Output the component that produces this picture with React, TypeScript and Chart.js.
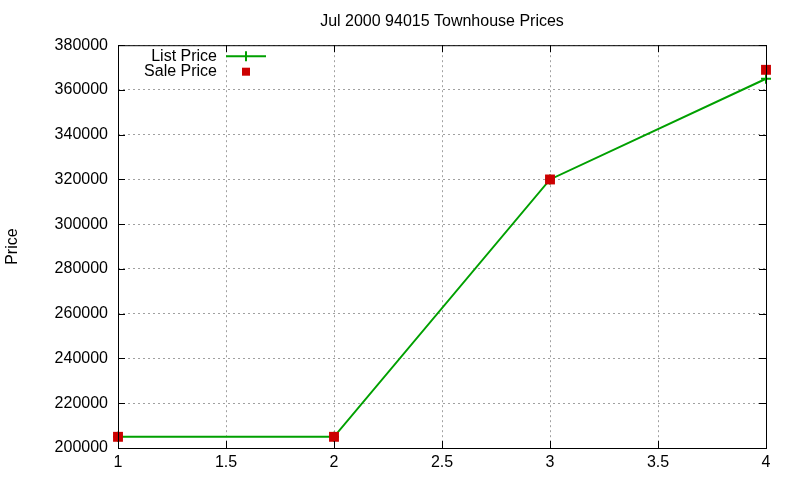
import { useEffect, useRef } from "react"
import { Chart, registerables } from "chart.js"

Chart.register(...registerables)

const listX = [1, 2, 3, 4]
const listPrice = [205000, 205000, 320000, 365000]
const saleX = [1, 2, 3, 4]
const salePrice = [205000, 205000, 320000, 369000]

const FONT = "'Liberation Sans', Arial, sans-serif"
const GREEN = "#00a000"
const RED = "#cc0000"

// gnuplot-like frame: full box, inward ticks and an inside legend
const framePlugin = {
  id: "frame",
  afterLayout(chart: any) {
    // center the title over the plot area, not the whole canvas
    const tb = chart.titleBlock
    if (tb) {
      tb.left = chart.chartArea.left
      tb.right = chart.chartArea.right
    }
  },
  afterDraw(chart: any) {
    const { ctx, chartArea: a, scales } = chart
    ctx.save()
    ctx.strokeStyle = "#000"
    ctx.lineWidth = 1
    ctx.strokeRect(a.left + 0.5, a.top + 0.5, a.right - a.left, a.bottom - a.top)
    ctx.beginPath()
    scales.x.ticks.forEach((t: any) => {
      const px = Math.round(scales.x.getPixelForValue(t.value)) + 0.5
      ctx.moveTo(px, a.bottom)
      ctx.lineTo(px, a.bottom - 7)
      ctx.moveTo(px, a.top)
      ctx.lineTo(px, a.top + 7)
    })
    scales.y.ticks.forEach((t: any) => {
      const py = Math.round(scales.y.getPixelForValue(t.value)) + 0.5
      ctx.moveTo(a.left, py)
      ctx.lineTo(a.left + 7, py)
      ctx.moveTo(a.right, py)
      ctx.lineTo(a.right - 7, py)
    })
    ctx.stroke()

    // legend
    ctx.font = `16px ${FONT}`
    ctx.fillStyle = "#000"
    ctx.textAlign = "right"
    ctx.textBaseline = "middle"
    const ds = chart.data.datasets
    const textX = a.left + 99
    const sx = a.left + 128
    ds.forEach((d: any, i: number) => {
      const y = a.top + 11 + i * 15.5
      ctx.fillText(d.label, textX, y)
      if (d.showLine !== false) {
        ctx.strokeStyle = d.borderColor
        ctx.lineWidth = 2
        ctx.beginPath()
        ctx.moveTo(textX + 9, y)
        ctx.lineTo(textX + 49, y)
        ctx.moveTo(sx, y - 5)
        ctx.lineTo(sx, y + 5)
        ctx.stroke()
      } else {
        ctx.fillStyle = d.pointBackgroundColor
        ctx.fillRect(sx - 4, y - 4, 8, 8)
        ctx.fillStyle = "#000"
      }
    })
    ctx.restore()
  },
}

export default function App() {
  const chartRef = useRef<HTMLCanvasElement>(null)
  const chartInstance = useRef<Chart | null>(null)

  useEffect(() => {
    document.body.style.margin = "0"
    if (!chartRef.current) return
    if (chartInstance.current) chartInstance.current.destroy()
    const ctx = chartRef.current.getContext("2d")
    if (!ctx) return

    chartInstance.current = new Chart(ctx, {
      type: "line",
      data: {
        datasets: [
          {
            label: "List Price",
            data: listX.map((x, i) => ({ x, y: listPrice[i] })),
            borderColor: GREEN,
            backgroundColor: GREEN,
            borderWidth: 2,
            pointStyle: "cross",
            pointRadius: 5,
            pointBorderWidth: 2,
            tension: 0,
            clip: false as any,
            order: 2,
          },
          {
            label: "Sale Price",
            data: saleX.map((x, i) => ({ x, y: salePrice[i] })),
            showLine: false,
            borderColor: RED,
            backgroundColor: RED,
            pointBackgroundColor: RED,
            pointStyle: "rect",
            pointRadius: 7,
            pointBorderWidth: 0,
            clip: false as any,
            order: 1,
          },
        ],
      },
      options: {
        animation: false,
        responsive: false,
        layout: { padding: { left: 0, right: 34, top: 0, bottom: 0 } },
        plugins: {
          legend: { display: false },
          tooltip: { enabled: false },
          title: {
            display: true,
            text: "Jul 2000 94015 Townhouse Prices",
            color: "#000",
            font: { family: FONT, size: 16, weight: "normal" },
            padding: { top: 12, bottom: 14 },
          },
        },
        scales: {
          x: {
            type: "linear",
            min: 1,
            max: 4,
            ticks: {
              stepSize: 0.5,
              color: "#000",
              padding: 5,
              font: { family: FONT, size: 16 },
              callback: (v: any) => String(v),
            },
            grid: { color: "#a0a0a0", lineWidth: 1, drawTicks: false },
            border: { display: false, dash: [2, 3] },
            afterFit: (s: any) => {
              s.height = 32
            },
          },
          y: {
            min: 200000,
            max: 380000,
            ticks: {
              stepSize: 20000,
              color: "#000",
              padding: 10,
              font: { family: FONT, size: 16 },
              callback: (v: any) => String(v),
            },
            grid: { color: "#a0a0a0", lineWidth: 1, drawTicks: false },
            border: { display: false, dash: [2, 3] },
            title: {
              display: true,
              text: "Price",
              color: "#000",
              font: { family: FONT, size: 16 },
              padding: { top: 3, bottom: 0 },
            },
            afterFit: (s: any) => {
              s.width = 118
            },
          },
        },
      },
      plugins: [framePlugin],
    })

    return () => {
      if (chartInstance.current) chartInstance.current.destroy()
    }
  }, [])

  return (
    <div style={{ width: 800, height: 480 }}>
      <canvas ref={chartRef} width={800} height={480} />
    </div>
  )
}
